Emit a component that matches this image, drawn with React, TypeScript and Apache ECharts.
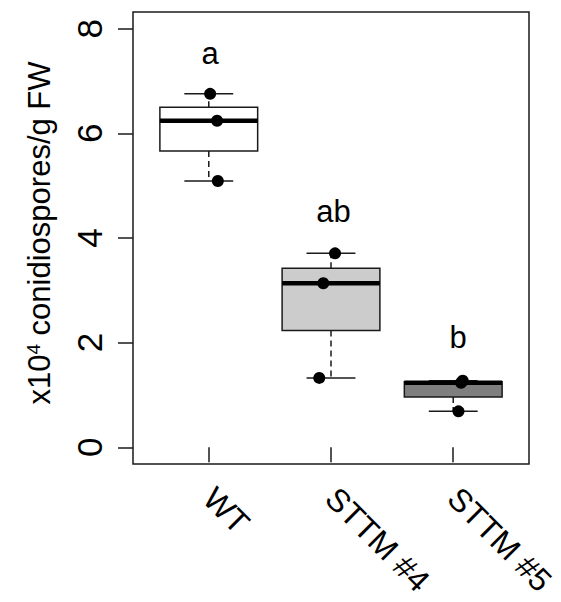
import React, { useEffect, useRef } from "react";
import * as echarts from "echarts";

const categories = ["WT", "STTM #4", "STTM #5"];
const groupX = [1, 2, 3];
const wtValues = [6.755, 6.24, 5.09];
const sttm4Values = [3.707, 3.135, 1.326];
const sttm5Values = [1.27, 1.234, 0.686];
const wtJitter = [0.011, 0.068, 0.074];
const sttm4Jitter = [0.033, -0.063, -0.096];
const sttm5Jitter = [0.078, 0.064, 0.043];
const letters = ["a", "ab", "b"];
const letterX = [1.01, 2.02, 3.04];
const letterY = [7.53, 4.51, 2.1];
const yTicks = [0, 2, 4, 6, 8];

const boxFills = ["#ffffff", "#cccccc", "#7f7f7f"];
const FONT = "'Liberation Sans', Arial, Helvetica, sans-serif";
const INK = "#1a1a1a";

function fivenum(values: number[]): number[] {
  const x = [...values].sort((a, b) => a - b);
  const n = x.length;
  const n4 = Math.floor((n + 3) / 2) / 2;
  const d = [1, n4, (n + 1) / 2, n + 1 - n4, n];
  return d.map((di) => 0.5 * (x[Math.floor(di) - 1] + x[Math.ceil(di) - 1]));
}

export default function App() {
  const ref = useRef<HTMLDivElement>(null);
  useEffect(() => {
    if (!ref.current) return;
    const chart = echarts.init(ref.current, undefined, { renderer: "svg" });
    const groups = [wtValues, sttm4Values, sttm5Values];
    const jitters = [wtJitter, sttm4Jitter, sttm5Jitter];
    const boxData = groups.map((g, i) => [groupX[i], ...fivenum(g), i]);
    const pointData: number[][] = [];
    groups.forEach((g, i) =>
      g.forEach((v, j) => pointData.push([groupX[i] + jitters[i][j], v]))
    );
    const letterData = letters.map((l, i) => [letterX[i], letterY[i], i]);

    chart.setOption({
      animation: false,
      backgroundColor: "#ffffff",
      grid: {
        left: 133,
        right: 32,
        top: 12,
        bottom: 138,
        show: true,
        borderColor: INK,
        borderWidth: 1.5,
        backgroundColor: "transparent",
      },
      xAxis: {
        type: "value",
        min: 0.38,
        max: 3.62,
        splitLine: { show: false },
        axisLine: { show: false },
        axisTick: {
          show: true,
          inside: false,
          length: 15,
          customValues: groupX,
          lineStyle: { color: INK, width: 1.5 },
        },
        axisLabel: {
          show: true,
          customValues: groupX,
          rotate: -45,
          margin: 29,
          fontSize: 32,
          fontFamily: FONT,
          color: "#000",
          formatter: (v: number) => categories[Math.round(v) - 1] ?? "",
        },
      },
      yAxis: {
        type: "value",
        min: -0.32,
        max: 8.32,
        splitLine: { show: false },
        axisLine: { show: false },
        axisTick: {
          show: true,
          inside: false,
          length: 15,
          customValues: yTicks,
          lineStyle: { color: INK, width: 1.5 },
        },
        axisLabel: {
          show: true,
          customValues: yTicks,
          rotate: 90,
          margin: 26,
          fontSize: 35,
          fontFamily: FONT,
          color: "#000",
        },
        name: "x10{sup|4} conidiospores/g FW",
        nameLocation: "middle",
        nameRotate: 90,
        nameGap: 78,
        nameTextStyle: {
          fontSize: 31,
          fontFamily: FONT,
          color: "#000",
          padding: [0, 0, 0, 10],
          rich: {
            sup: { fontSize: 19, fontFamily: FONT, color: "#000", verticalAlign: "top" },
          },
        },
      },
      series: [
        {
          type: "custom",
          clip: false,
          encode: { x: 0, y: [1, 2, 3, 4, 5] },
          data: boxData,
          renderItem: (params: any, api: any) => {
            const x = api.value(0);
            const lo = api.value(1);
            const q1 = api.value(2);
            const med = api.value(3);
            const q3 = api.value(4);
            const hi = api.value(5);
            const idx = api.value(6);
            const halfBox = api.size([0.4, 0])[0];
            const halfCap = api.size([0.2, 0])[0];
            const [cx, yLo] = api.coord([x, lo]);
            const yQ1 = api.coord([x, q1])[1];
            const yMed = api.coord([x, med])[1];
            const yQ3 = api.coord([x, q3])[1];
            const yHi = api.coord([x, hi])[1];
            const lineStyle = { stroke: INK, lineWidth: 1.5 };
            const dashStyle = { stroke: INK, lineWidth: 1.5, lineDash: [6, 4] };
            return {
              type: "group",
              children: [
                { type: "line", shape: { x1: cx, y1: yQ1, x2: cx, y2: yLo }, style: dashStyle },
                { type: "line", shape: { x1: cx, y1: yQ3, x2: cx, y2: yHi }, style: dashStyle },
                { type: "line", shape: { x1: cx - halfCap, y1: yLo, x2: cx + halfCap, y2: yLo }, style: lineStyle },
                { type: "line", shape: { x1: cx - halfCap, y1: yHi, x2: cx + halfCap, y2: yHi }, style: lineStyle },
                {
                  type: "rect",
                  shape: { x: cx - halfBox, y: yQ3, width: halfBox * 2, height: yQ1 - yQ3 },
                  style: { fill: boxFills[idx], stroke: INK, lineWidth: 1.5 },
                },
                {
                  type: "line",
                  shape: { x1: cx - halfBox, y1: yMed, x2: cx + halfBox, y2: yMed },
                  style: { stroke: "#000", lineWidth: 4.5 },
                },
              ],
            };
          },
          z: 2,
        },
        {
          type: "scatter",
          data: pointData,
          symbol: "circle",
          symbolSize: 12,
          itemStyle: { color: "#000", opacity: 1 },
          z: 3,
        },
        {
          type: "custom",
          clip: false,
          encode: { x: 0, y: 1 },
          data: letterData,
          renderItem: (params: any, api: any) => {
            const [px, py] = api.coord([api.value(0), api.value(1)]);
            return {
              type: "text",
              x: px,
              y: py,
              style: {
                text: letters[api.value(2)],
                fontSize: 31,
                fontFamily: FONT,
                fill: "#000",
                align: "center",
                verticalAlign: "middle",
              },
            };
          },
          z: 4,
        },
      ],
    });
    return () => chart.dispose();
  }, []);
  return (
    <div
      ref={ref}
      style={{ position: "fixed", left: 0, top: 0, width: 561, height: 602, background: "#fff" }}
    />
  );
}
